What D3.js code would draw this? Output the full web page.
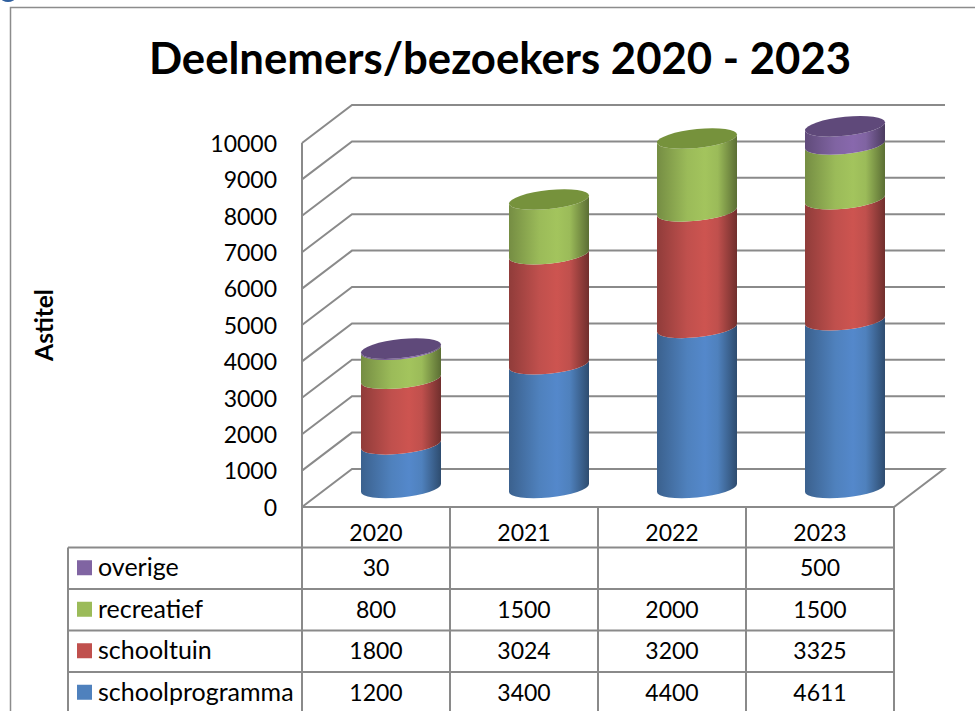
<!DOCTYPE html>
<html>
<head>
<meta charset="utf-8">
<script src="https://cdn.jsdelivr.net/npm/d3@7"></script>
<style>
  html, body { margin: 0; padding: 0; background: #fff; overflow: hidden; }
  text { font-family: Lato, "Open Sans", sans-serif; fill: #000; }
</style>
</head>
<body>
<svg class="chart" width="975" height="711"></svg>
<script>
let years = ["2020", "2021", "2022", "2023"];
let yTicks = [0, 1000, 2000, 3000, 4000, 5000, 6000, 7000, 8000, 9000, 10000];

let schoolprogramma = [1200, 3400, 4400, 4611];
let schooltuin = [1800, 3024, 3200, 3325];
let recreatief = [800, 1500, 2000, 1500];
let overige = [30, null, null, 500];

let seriesNames = ["schoolprogramma", "schooltuin", "recreatief", "overige"];
let seriesValues = [schoolprogramma, schooltuin, recreatief, overige];
let seriesColors = ["#4f81bd", "#c0504d", "#9bbb59", "#8064a2"];
let centerColors = ["#5488cb", "#cd5450", "#a3c45d", "#8868ad"];
let capColors = ["#3d6594", "#964040", "#76923c", "#5f497a"];

let gridColor = "#8a8a8a";

// 3d look: the back wall is shifted by this much from the front
let depth = { x: 50, y: -38 };
let barRadius = 40;
let ellipseHeight = 9.5;
let tilt = -0.1;

let svg = d3.select(".chart");

let y = d3.scaleLinear().domain([0, 10000]).range([507, 143]);
let x = d3.scaleBand().domain(years).range([302, 894]);

// table rows, top row is the last series
let tableRows = seriesNames.slice().reverse();
let rowScale = d3.scaleBand().domain(tableRows).range([547.5, 713.5]);

// outer frame, runs off the picture on the right and bottom
svg.append("path")
  .attr("d", "M10.5,720V7.5H985")
  .attr("fill", "none")
  .attr("stroke", "#8c8c8c")
  .attr("stroke-width", 1.5);

svg.append("ellipse")
  .attr("cx", 8).attr("cy", -2).attr("rx", 7).attr("ry", 4)
  .attr("fill", "#2f5f9e");

svg.append("text")
  .attr("x", 500)
  .attr("y", 74)
  .attr("text-anchor", "middle")
  .style("font-size", "43.7px")
  .style("font-weight", "bold")
  .text("Deelnemers/bezoekers 2020 - 2023");

svg.append("text")
  .attr("transform", "translate(53,325) rotate(-90)")
  .attr("text-anchor", "middle")
  .style("font-size", "24.5px")
  .style("font-weight", "bold")
  .text("Astitel");

// walls and gridlines
let grid = svg.append("g")
  .attr("fill", "none")
  .attr("stroke", gridColor)
  .attr("stroke-width", 2);

grid.selectAll("path.gridline")
  .data(yTicks.filter(d => d > 0))
  .join("path")
  .attr("class", "gridline")
  .attr("d", d => `M${x.range()[0]},${y(d)}l${depth.x},${depth.y}H${x.range()[1] + depth.x + 1}`);

grid.append("path")
  .attr("d", `M${x.range()[0]},${y(10000)}V${y(0)}H${x.range()[1]}l${depth.x},${depth.y}H${x.range()[0] + depth.x}L${x.range()[0]},${y(0)}`);

// y axis, labels only
let yAxis = d3.axisLeft(y).tickValues(yTicks).tickSize(0).tickPadding(25).tickFormat(d3.format("d"));
let yGroup = svg.append("g").attr("transform", `translate(${x.range()[0]},1)`).call(yAxis);
yGroup.select(".domain").remove();
yGroup.selectAll("text").style("font-size", "23px").style("font-family", "Lato");

// horizontal shading of the cylinders
let defs = svg.append("defs");
seriesColors.forEach((c, i) => {
  let dark = d3.color(c).darker(1.5).formatHex();
  let mid = d3.color(c).darker(0.8).formatHex();
  let grad = defs.append("linearGradient").attr("id", "shade" + i);
  grad.append("stop").attr("offset", "0%").attr("stop-color", mid);
  grad.append("stop").attr("offset", "38%").attr("stop-color", c);
  grad.append("stop").attr("offset", "60%").attr("stop-color", centerColors[i]);
  grad.append("stop").attr("offset", "76%").attr("stop-color", c);
  grad.append("stop").attr("offset", "100%").attr("stop-color", dark);
});

// stack the values per year
let rows = years.map((year, i) => {
  let row = { year: year };
  seriesNames.forEach((name, s) => { row[name] = seriesValues[s][i] || 0; });
  return row;
});
let stacked = d3.stack().keys(seriesNames)(rows);

// center of a cylinder floor: middle of the band, halfway into the depth
let cx = year => x(year) + x.bandwidth() / 2 + depth.x / 2;
let cy = v => y(v) + depth.y / 2;

let bars = svg.append("g").attr("class", "bars");

stacked.forEach((layer, s) => {
  layer.forEach(d => {
    if (d[1] === d[0]) return;
    let h = y(d[0]) - y(d[1]);
    bars.append("path")
      .attr("transform", `matrix(1,${tilt},0,1,${cx(d.data.year)},${cy(d[1])})`)
      .attr("d", `M${-barRadius},0V${h}A${barRadius},${ellipseHeight} 0 0 0 ${barRadius},${h}V0A${barRadius},${ellipseHeight} 0 0 1 ${-barRadius},0Z`)
      .attr("fill", `url(#shade${s})`);
  });
});

// top cap only on the highest segment of every bar
rows.forEach(row => {
  let total = d3.sum(seriesNames, n => row[n]);
  let last = d3.max(seriesNames.map((n, s) => row[n] > 0 ? s : -1));
  bars.append("ellipse")
    .attr("transform", `matrix(1,${tilt},0,1,${cx(row.year)},${cy(total)})`)
    .attr("rx", barRadius)
    .attr("ry", ellipseHeight)
    .attr("fill", capColors[last]);
});

// data table
let table = svg.append("g")
  .attr("fill", "none")
  .attr("stroke", gridColor)
  .attr("stroke-width", 2);

let tableLeft = 68;
let tableBottom = 720;

table.selectAll("line.vert")
  .data(years.map(d => x(d)).concat([x.range()[1]]))
  .join("line")
  .attr("class", "vert")
  .attr("x1", d => d).attr("x2", d => d)
  .attr("y1", y(0)).attr("y2", tableBottom);

table.append("line")
  .attr("x1", tableLeft).attr("x2", tableLeft)
  .attr("y1", rowScale.range()[0]).attr("y2", tableBottom);

table.selectAll("line.row")
  .data(tableRows)
  .join("line")
  .attr("class", "row")
  .attr("x1", tableLeft).attr("x2", x.range()[1])
  .attr("y1", d => rowScale(d)).attr("y2", d => rowScale(d));

let numberSize = "23px";
let labelSize = "25px";

svg.append("g").selectAll("text")
  .data(years)
  .join("text")
  .attr("x", d => x(d) + x.bandwidth() / 2)
  .attr("y", 533)
  .attr("dy", "0.35em")
  .attr("text-anchor", "middle")
  .style("font-size", numberSize)
  .text(d => d);

let tableRow = svg.append("g").selectAll("g")
  .data(tableRows)
  .join("g")
  .attr("transform", d => `translate(0,${rowScale(d) + rowScale.bandwidth() / 2})`);

tableRow.append("rect")
  .attr("x", 77).attr("y", -8)
  .attr("width", 15).attr("height", 15)
  .attr("fill", d => seriesColors[seriesNames.indexOf(d)]);

tableRow.append("text")
  .attr("x", 98)
  .attr("dy", "0.32em")
  .style("font-size", labelSize)
  .text(d => d);

tableRow.selectAll("text.value")
  .data(d => seriesValues[seriesNames.indexOf(d)].map((v, i) => ({ v: v, year: years[i] })))
  .join("text")
  .attr("class", "value")
  .attr("x", d => x(d.year) + x.bandwidth() / 2)
  .attr("dy", "0.35em")
  .attr("text-anchor", "middle")
  .style("font-size", numberSize)
  .text(d => d.v === null ? "" : d.v);
</script>
</body>
</html>
